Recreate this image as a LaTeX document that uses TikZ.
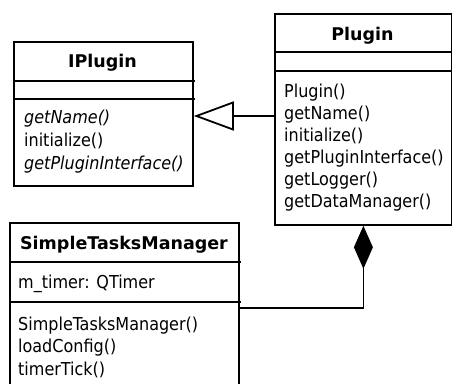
\documentclass[tikz,border=0pt]{standalone}
\usepackage{fontspec}
\setmainfont{DejaVu Sans Condensed}
\newfontfamily\titlefont{DejaVu Sans}
\usetikzlibrary{arrows.meta}
\begin{document}
\begin{tikzpicture}[x=1pt,y=-1pt,
  umlline/.style={line width=1.8pt},
  classbox/.style={draw, line width=1.8pt, anchor=north west, inner sep=0pt},
  classtitle/.style={font=\titlefont\bfseries\fontsize{17.5}{20}\selectfont, anchor=base, inner sep=0pt},
  member/.style={font=\fontsize{17.8}{20}\selectfont, anchor=base west, inner sep=0pt},
  abstract/.style={member, font=\itshape\fontsize{17.8}{20}\selectfont}]
\useasboundingbox (0,0) rectangle (452,383);

% IPlugin interface
\node[classbox, minimum width=179pt, minimum height=144pt] (iplugin) at (13,41) {};
\draw[umlline] (13,81) -- (195,81) (13,99) -- (195,99);
\node[classtitle] (iptitle) at (102.5,67.5) {IPlugin};
\node[abstract] (ipm1) at (24,123) {getName()};
\node[member] (ipm2) at (24,146) {initialize()};
\node[abstract] (ipm3) at (24,169) {getPluginInterface()};

% Plugin class
\node[classbox, minimum width=177pt, minimum height=211pt] (plugin) at (274,13) {};
\draw[umlline] (274,52) -- (452,52) (274,71) -- (452,71);
\node[classtitle] (pltitle) at (362.5,40) {Plugin};
\node[member] (plm1) at (284,97) {Plugin()};
\node[member] (plm2) at (284,119) {getName()};
\node[member] (plm3) at (284,141) {initialize()};
\node[member] (plm4) at (284,163) {getPluginInterface()};
\node[member] (plm5) at (284,185) {getLogger()};
\node[member] (plm6) at (284,207) {getDataManager()};

% SimpleTasksManager class
\node[classbox, minimum width=229pt, minimum height=200pt] (stm) at (9,222) {};
\draw[umlline] (9,262) -- (241,262) (9,302) -- (241,302);
\node[classtitle] (sttitle) at (124,249) {SimpleTasksManager};
\node[member] (sta1) at (18,288) {m\_timer: QTimer};
\node[member] (stm1) at (18,330) {SimpleTasksManager()};
\node[member] (stm2) at (18,352) {loadConfig()};
\node[member] (stm3) at (18,375) {timerTick()};

% Plugin realizes IPlugin
\draw[umlline, -{Triangle[open, length=40pt, width=29pt]}]
  (plugin.west |- 0,116) -- (iplugin.east |- 0,116);

% Plugin is composed of a SimpleTasksManager
\draw[umlline, {Diamond[length=43pt, width=19pt]}-]
  (plugin.south) |- (stm.east |- 0,308);
\end{tikzpicture}
\end{document}
